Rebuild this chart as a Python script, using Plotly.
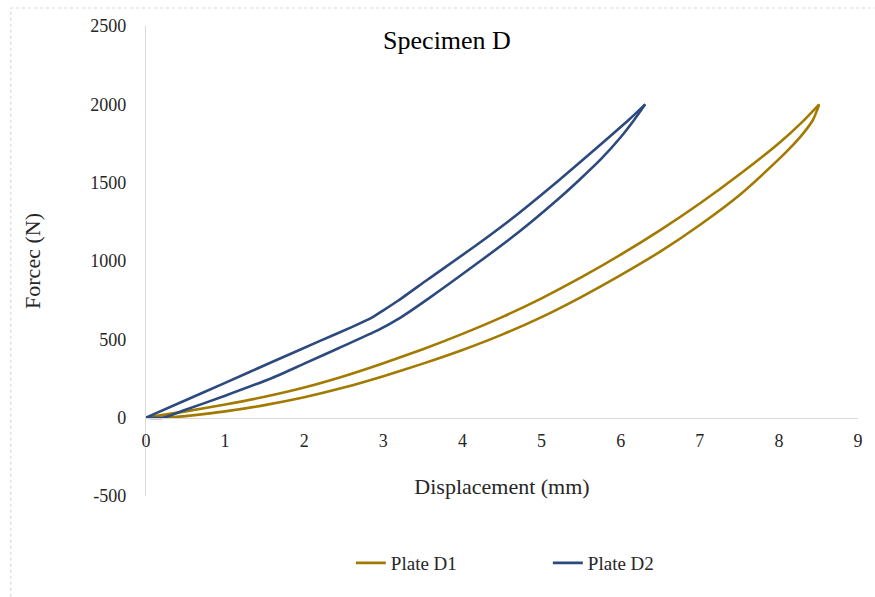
import plotly.graph_objects as go

# Plate D1 (displacement in mm, force in N)
d1_load_disp = [0.0, 0.5, 1.0, 1.5, 2.0, 2.5, 3.0, 3.5, 4.0, 4.5, 5.0, 5.5, 6.0, 6.5, 7.0, 7.5, 8.0, 8.3, 8.51]
d1_load_force = [0, 40, 84, 133, 192, 264, 347, 437, 535, 642, 762, 895, 1040, 1197, 1367, 1552, 1752, 1890, 2000]
d1_unload_disp = [8.51, 8.43, 8.3, 8.14, 8.0, 7.5, 7.0, 6.5, 6.0, 5.5, 5.0, 4.5, 4.0, 3.5, 3.0, 2.5, 2.0, 1.5, 1.0, 0.5, 0.25, 0.0]
d1_unload_force = [2000, 1900, 1810, 1720, 1650, 1420, 1230, 1060, 910, 770, 642, 530, 432, 345, 265, 192, 130, 80, 40, 10, 0, 0]

# Plate D2
d2_load_disp = [0.0, 0.5, 1.0, 1.6, 2.2, 2.6, 2.86, 3.0, 3.19, 3.57, 4.2, 4.7, 5.22, 5.75, 6.1, 6.31]
d2_load_force = [0, 111, 222, 357, 490, 578, 640, 685, 748, 885, 1110, 1300, 1515, 1745, 1900, 2000]
d2_unload_disp = [6.31, 6.17, 6.0, 5.75, 5.48, 5.2, 4.7, 4.2, 3.57, 3.19, 2.94, 2.44, 2.0, 1.6, 1.0, 0.5, 0.22, 0.0]
d2_unload_force = [2000, 1900, 1790, 1650, 1519, 1391, 1180, 990, 760, 630, 560, 445, 345, 255, 140, 50, 0, 0]

series_names = ["Plate D1", "Plate D2"]
series_colors = ["#A27A00", "#2C4A7E"]

x_ticks = list(range(0, 10))
y_ticks = list(range(-500, 3000, 500))
y_tick_text = [str(v) for v in y_ticks]

FONT = "Liberation Serif, Times New Roman, serif"
TEXT = "#262626"
AXIS = "#D9D9D9"

fig = go.Figure()
plates = [
    (d1_load_disp, d1_load_force, d1_unload_disp, d1_unload_force),
    (d2_load_disp, d2_load_force, d2_unload_disp, d2_unload_force),
]
for name, col, (lx, ly, ux, uy) in zip(series_names, series_colors, plates):
    for i, (xs, ys) in enumerate([(lx, ly), (ux, uy)]):
        fig.add_trace(go.Scatter(
            x=xs, y=ys, mode="lines", name=name, legendgroup=name,
            showlegend=(i == 0),
            line=dict(color=col, width=2.6, shape="spline", smoothing=0.6)))

W, H = 875, 597
ML, MR, MT, MB = 146, 13, 26, 101
pw = W - ML - MR
ph = H - MT - MB

fig.update_layout(
    width=W, height=H,
    margin=dict(l=ML, r=MR, t=MT, b=MB),
    paper_bgcolor="white", plot_bgcolor="white",
    font=dict(family=FONT, color=TEXT, size=18),
    title=dict(text="Specimen D", x=447 / W, xanchor="center", xref="container",
               y=1 - 40 / H, yanchor="middle", yref="container",
               font=dict(size=26, family=FONT, color="#000000")),
    xaxis=dict(range=[0, 9], tickvals=x_ticks, showgrid=False, zeroline=False,
               showline=True, linecolor=AXIS, linewidth=1.3,
               anchor="free", position=1 / 6,
               ticks="outside", ticklen=7, tickcolor="rgba(0,0,0,0)",
               tickfont=dict(size=18, family=FONT, color=TEXT),
               title=dict(text="Displacement (mm)", standoff=28,
                          font=dict(size=22, family=FONT, color=TEXT))),
    yaxis=dict(range=[-500, 2500], tickvals=y_ticks, ticktext=y_tick_text,
               showgrid=False, zeroline=False,
               showline=True, linecolor=AXIS, linewidth=1.3,
               ticks="outside", ticklen=15, tickcolor="rgba(0,0,0,0)",
               tickfont=dict(size=18, family=FONT, color=TEXT),
               title=dict(text="Forcec (N)", standoff=43,
                          font=dict(size=22, family=FONT, color=TEXT))),
    legend=dict(orientation="h", x=(352 - ML) / pw, xanchor="left",
                y=-(563 - (H - MB)) / ph, yanchor="middle",
                entrywidth=152, entrywidthmode="pixels",
                font=dict(size=19, family=FONT, color=TEXT),
                bgcolor="rgba(0,0,0,0)"),
    showlegend=True,
)

# light outer frame around the chart area
fig.add_shape(type="rect", xref="paper", yref="paper",
              x0=(10 - ML) / pw, x1=(W + 5 - ML) / pw,
              y0=-(H + 5 - (H - MB)) / ph, y1=1 + (MT - 8) / ph,
              line=dict(color="#D9D9D9", width=1.2, dash="dot"), layer="below")

fig.write_html("out.html")
